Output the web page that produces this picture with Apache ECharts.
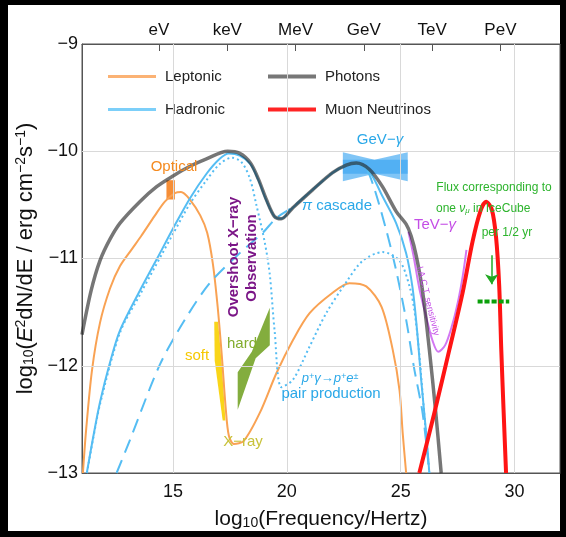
<!DOCTYPE html>
<html>
<head>
<meta charset="utf-8">
<script src="https://cdn.jsdelivr.net/npm/echarts@6/dist/echarts.min.js"></script>
<style>
  html, body { margin: 0; padding: 0; background: #000; }
  #chart { width: 566px; height: 537px; }
</style>
</head>
<body>
<div id="chart"></div>
<script>
// Axis ticks and labels
const freqTicks = [15, 20, 25, 30];
const fluxTicks = [-10, -11, -12];
const energyTicks = [14.383, 17.383, 20.383, 23.383, 26.383, 29.383];
const energyLabels = ['eV', 'keV', 'MeV', 'GeV', 'TeV', 'PeV'];

// Spectral curves: [log10(nu/Hz), log10(E^2 dN/dE)]
const leptonic = [[11.04,-13.0],[11.18,-12.60],[11.44,-12.04],[11.79,-11.60],[12.23,-11.28],[12.67,-11.07],[13.2,-10.91],[13.6,-10.79],[14.2,-10.60],[14.64,-10.47],[15.08,-10.39],[15.35,-10.38],[15.74,-10.45],[16.2,-10.60],[16.5,-10.76],[16.75,-11.05],[16.96,-11.45],[17.14,-11.90],[17.32,-12.41],[17.45,-12.65],[17.67,-12.73],[18.11,-12.70],[18.81,-12.44],[19.54,-12.07],[20.27,-11.76],[21.0,-11.51],[22.01,-11.32],[22.75,-11.23],[23.49,-11.26],[24.16,-11.45],[24.65,-11.85],[24.95,-12.23],[25.09,-12.63],[25.24,-13.0]];
const hadronic = [[11.21,-13.0],[11.47,-12.69],[11.79,-12.34],[12.23,-11.97],[12.67,-11.67],[13.54,-11.30],[14.3,-11.00],[15.0,-10.72],[15.74,-10.44],[16.47,-10.21],[17.05,-10.07],[17.45,-10.02],[17.93,-10.04],[18.4,-10.12],[18.75,-10.27],[19.10,-10.46],[19.46,-10.61],[19.75,-10.63],[20.25,-10.53],[21.13,-10.36],[22.01,-10.20],[22.61,-10.13],[23.05,-10.11],[23.63,-10.19],[24.20,-10.42],[24.80,-10.67],[25.24,-10.95],[25.52,-11.27],[25.72,-11.67],[25.9,-12.13],[26.12,-12.63],[26.26,-13.0]];
const pairSync = [[11.22,-13.0],[11.48,-12.69],[11.79,-12.36],[12.67,-11.69],[13.54,-11.34],[15.0,-10.77],[15.74,-10.49],[16.47,-10.27],[17.05,-10.12],[17.58,-10.06],[18.0,-10.10],[18.37,-10.25],[18.66,-10.50],[19.03,-10.85],[19.25,-11.15],[19.46,-11.67],[19.76,-12.20],[20.27,-12.13],[21.0,-11.82],[21.73,-11.51],[22.61,-11.22],[23.34,-11.02],[24.21,-10.94],[24.95,-11.02],[25.39,-11.26],[25.6,-11.48],[25.8,-11.85],[26.02,-12.41],[26.26,-13.0]];
const pionCascade = [[12.52,-13.0],[13.11,-12.69],[14.42,-11.99],[15.52,-11.57],[16.61,-11.23],[17.93,-10.95],[18.94,-10.76],[19.55,-10.62],[20.25,-10.52],[21.13,-10.36],[22.01,-10.20],[22.61,-10.13],[23.05,-10.11],[23.45,-10.15],[23.8,-10.32],[24.36,-10.73],[24.80,-11.11],[25.24,-11.57],[25.58,-12.01],[25.97,-12.45],[26.26,-13.0]];
const photons = [[11.0,-11.71],[11.4,-11.30],[11.79,-11.02],[12.23,-10.82],[12.67,-10.67],[13.54,-10.47],[14.28,-10.33],[15.0,-10.23],[15.74,-10.14],[16.47,-10.07],[17.40,-10.0],[17.93,-10.02],[18.4,-10.11],[18.75,-10.26],[19.10,-10.45],[19.46,-10.61],[19.75,-10.63],[20.25,-10.53],[21.13,-10.36],[22.01,-10.20],[22.61,-10.13],[23.05,-10.11],[23.63,-10.17],[24.20,-10.33],[24.80,-10.56],[25.24,-10.68],[25.46,-10.79],[25.68,-10.97],[25.96,-11.30],[26.26,-11.85],[26.53,-12.41],[26.78,-13.0]];
const muonNeutrinos = [[25.82,-13.0],[26.48,-12.44],[27.14,-11.85],[27.72,-11.32],[28.16,-10.84],[28.5,-10.56],[28.75,-10.47],[29.0,-10.54],[29.19,-10.80],[29.33,-11.26],[29.42,-11.85],[29.52,-12.41],[29.63,-13.0]];
const iactSensitivity = [[25.34,-10.75],[25.56,-10.97],[25.82,-11.28],[26.13,-11.55],[26.39,-11.76],[26.65,-11.87],[26.95,-11.81],[27.25,-11.63],[27.52,-11.40],[27.73,-11.16],[27.89,-10.92]];

// Observational constraints
const opticalBox = [[14.71,-10.27],[15.08,-10.27],[15.08,-10.45],[14.71,-10.45]];
const gevButterfly = [[22.46,-10.01],[23.85,-10.08],[25.31,-10.01],[25.31,-10.28],[23.85,-10.21],[22.46,-10.28]];
const gevBand = [[22.46,-10.08],[25.31,-10.08],[25.31,-10.21],[22.46,-10.21]];
const softXray = [[16.81,-11.59],[16.98,-11.59],[17.16,-12.04],[17.30,-12.51],[17.18,-12.51],[16.83,-11.95]];
const hardXray = [[17.84,-12.41],[17.84,-12.06],[18.46,-11.87],[19.25,-11.46],[19.25,-11.81],[18.63,-11.93]];
const iceCubeArrow = [[29.0,-10.97],[29.0,-11.24]];
const iceCubeLevel = [[28.38,-11.40],[29.77,-11.40]];

const FONT = '"Liberation Sans", Arial, sans-serif';

function polygonSeries(points, color, opacity, z) {
  return {
    type: 'custom',
    silent: true,
    z: z || 3,
    data: points,
    encode: { x: 0, y: 1 },
    renderItem: function (params, api) {
      if (params.dataIndex !== 0) return null;
      return {
        type: 'polygon',
        shape: { points: points.map(function (p) { return api.coord(p); }) },
        style: { fill: color, opacity: opacity }
      };
    }
  };
}

function curve(name, data, color, width, type, z, opacity) {
  return {
    name: name, type: 'line', data: data, showSymbol: false, symbol: 'none',
    smooth: 0.3, z: z, silent: true,
    lineStyle: { color: color, width: width, type: type || 'solid', opacity: opacity == null ? 1 : opacity, cap: 'butt', join: 'round' },
    itemStyle: { color: color }
  };
}

const chart = echarts.init(document.getElementById('chart'), null, { renderer: 'canvas' });

const gridLines = {
  type: 'line', data: [], silent: true, z: 1,
  markLine: {
    silent: true, symbol: 'none', label: { show: false },
    lineStyle: { color: '#d9d9d9', width: 1, type: 'solid' },
    data: freqTicks.map(function (v) { return { xAxis: v }; })
      .concat(fluxTicks.map(function (v) { return { yAxis: v }; }))
  }
};

const blue = '#2aa8e8';
const option = {
  backgroundColor: '#000',
  animation: false,
  textStyle: { fontFamily: FONT },
  graphic: [
    { type: 'rect', z: -10, shape: { x: 8, y: 5, width: 552, height: 526 }, style: { fill: '#fff' }, silent: true },
    { type: 'text', z: 50, x: 174, y: 167, style: { text: 'Optical', fill: '#f58a1f', font: '15px ' + FONT, align: 'center', verticalAlign: 'middle' } },
    { type: 'text', z: 50, x: 234, y: 257, rotation: Math.PI / 2, style: { text: 'Overshoot X\u2212ray', fill: '#7b1687', font: 'bold 15px ' + FONT, align: 'center', verticalAlign: 'middle' } },
    { type: 'text', z: 50, x: 252, y: 258, rotation: Math.PI / 2, style: { text: 'Observation', fill: '#7b1687', font: 'bold 15px ' + FONT, align: 'center', verticalAlign: 'middle' } },
    { type: 'text', z: 50, x: 197, y: 356, style: { text: 'soft', fill: '#f6c800', font: '15px ' + FONT, align: 'center', verticalAlign: 'middle' } },
    { type: 'text', z: 50, x: 242, y: 344, style: { text: 'hard', fill: '#82ad2e', font: '15px ' + FONT, align: 'center', verticalAlign: 'middle' } },
    { type: 'text', z: 50, x: 243, y: 442, style: { text: 'X\u2212ray', fill: '#c8c23a', font: '15px ' + FONT, align: 'center', verticalAlign: 'middle' } },
    { type: 'text', z: 50, x: 337, y: 206, style: { rich: { i: { font: 'italic 15px ' + FONT, fill: blue }, n: { font: '15px ' + FONT, fill: blue } }, text: '{i|\u03c0}{n| cascade}', align: 'center', verticalAlign: 'middle' } },
    { type: 'text', z: 50, x: 380, y: 140, style: { rich: { i: { font: 'italic 15px ' + FONT, fill: blue }, n: { font: '15px ' + FONT, fill: blue } }, text: '{n|GeV\u2212}{i|\u03b3}', align: 'center', verticalAlign: 'middle' } },
    { type: 'text', z: 50, x: 330, y: 378, style: {
      rich: {
        i: { font: 'italic 13px ' + FONT, fill: blue },
        u: { font: 'italic 9px ' + FONT, fill: blue, verticalAlign: 'top' },
        n: { font: '13px ' + FONT, fill: blue }
      },
      text: '{i|p}{u|+}{i|\u03b3}{n|\u2192}{i|p}{u|+}{i|e}{u|\u00b1}', align: 'center', verticalAlign: 'middle' } },
    { type: 'text', z: 50, x: 331, y: 394, style: { text: 'pair production', fill: blue, font: '15px ' + FONT, align: 'center', verticalAlign: 'middle' } },
    { type: 'text', z: 50, x: 435, y: 225, style: { rich: { i: { font: 'italic 15px ' + FONT, fill: '#c44de6' }, n: { font: '15px ' + FONT, fill: '#c44de6' } }, text: '{n|TeV\u2212}{i|\u03b3}', align: 'center', verticalAlign: 'middle' } },
    { type: 'text', z: 50, x: 428, y: 301, rotation: -76 * Math.PI / 180, style: { text: 'I.A.C.T. sensitivity', fill: '#c44de6', font: '9px ' + FONT, align: 'center', verticalAlign: 'middle' } },
    { type: 'text', z: 50, x: 494, y: 188, style: { text: 'Flux corresponding to', fill: '#2db42d', font: '12px ' + FONT, align: 'center', verticalAlign: 'middle' } },
    { type: 'text', z: 50, x: 436, y: 209, style: { rich: { n: { font: '12px ' + FONT, fill: '#2db42d' }, i: { font: 'italic 12px ' + FONT, fill: '#2db42d' }, s: { font: 'italic 8px ' + FONT, fill: '#2db42d', verticalAlign: 'bottom' } }, text: '{n|one }{i|\u03bd}{s|\u03bc}{n| in IceCube}', align: 'left', verticalAlign: 'middle' } },
    { type: 'text', z: 50, x: 507, y: 233, style: { text: 'per 1/2 yr', fill: '#2db42d', font: '12px ' + FONT, align: 'center', verticalAlign: 'middle' } }
  ],
  legend: [
    {
      left: 103, top: 64, orient: 'vertical', itemGap: 18, itemWidth: 48, itemHeight: 3, icon: 'rect',
      textStyle: { fontSize: 15, color: '#222', fontFamily: FONT, padding: [0, 0, 0, 4] },
      data: [{ name: 'Leptonic', itemStyle: { color: '#fbb274' } }, { name: 'Hadronic', itemStyle: { color: '#7ccff9' } }]
    },
    {
      left: 263, top: 64, orient: 'vertical', itemGap: 18, itemWidth: 48, itemHeight: 4, icon: 'rect',
      textStyle: { fontSize: 15, color: '#222', fontFamily: FONT, padding: [0, 0, 0, 4] },
      data: [{ name: 'Photons', itemStyle: { color: '#777' } }, { name: 'Muon Neutrinos', itemStyle: { color: '#ff2424' } }]
    }
  ],
  grid: { left: 82, right: 6, top: 44, bottom: 64, show: true, borderColor: '#555', borderWidth: 1, backgroundColor: 'transparent' },
  xAxis: [
    {
      type: 'value', min: 11, max: 32, position: 'bottom',
      axisLine: { show: true, lineStyle: { color: '#555' } },
      axisTick: { show: true, inside: true, length: 5, customValues: freqTicks, lineStyle: { color: '#555' } },
      axisLabel: { customValues: freqTicks, fontSize: 18, color: '#111', margin: 10, fontFamily: FONT },
      splitLine: { show: false },
      name: '{a|log}{s|10}{a|(Frequency/Hertz)}', nameLocation: 'middle', nameGap: 35,
      nameTextStyle: { rich: { a: { fontSize: 21, color: '#111', fontFamily: FONT }, s: { fontSize: 14, color: '#111', fontFamily: FONT, verticalAlign: 'bottom', padding: [8, 0, 0, 0] } } }
    },
    {
      type: 'value', min: 11, max: 32, position: 'top',
      axisLine: { show: true, lineStyle: { color: '#555' } },
      axisTick: { show: true, inside: true, length: 7, customValues: energyTicks, lineStyle: { color: '#555' } },
      axisLabel: {
        customValues: energyTicks, fontSize: 17, color: '#111', margin: 5, fontFamily: FONT,
        formatter: function (v) {
          var best = 0;
          for (var i = 1; i < energyTicks.length; i++) if (Math.abs(energyTicks[i] - v) < Math.abs(energyTicks[best] - v)) best = i;
          return energyLabels[best];
        }
      },
      splitLine: { show: false }
    }
  ],
  yAxis: {
    type: 'value', min: -13, max: -9, interval: 1,
    axisLine: { show: true, lineStyle: { color: '#555' } },
    axisTick: { show: true, inside: true, length: 5, lineStyle: { color: '#555' } },
    axisLabel: { fontSize: 18, color: '#111', margin: 4, fontFamily: FONT, formatter: function (v) { return String(v).replace('-', '\u2212'); } },
    splitLine: { show: false },
    name: '{a|log}{s|10}{a|(}{i|E}{p|2}{a|dN/dE / erg cm}{p|\u22122}{a|s}{p|\u22121}{a|)}',
    nameLocation: 'middle', nameRotate: 90, nameGap: 41,
    nameTextStyle: { rich: {
      a: { fontSize: 22, color: '#111', fontFamily: FONT },
      i: { fontSize: 22, color: '#111', fontFamily: FONT, fontStyle: 'italic' },
      s: { fontSize: 14, color: '#111', fontFamily: FONT, verticalAlign: 'bottom' },
      p: { fontSize: 14, color: '#111', fontFamily: FONT, verticalAlign: 'top' }
    } }
  },
  series: [
    gridLines,
    polygonSeries(gevButterfly, '#2c9ff0', 0.6, 3),
    polygonSeries(gevBand, '#2c9ff0', 0.55, 3),
    polygonSeries(softXray, '#f8d000', 0.9, 3),
    polygonSeries(hardXray, '#6d9f1c', 0.85, 3),
    polygonSeries(opticalBox, '#f58220', 0.9, 3),
    curve('Leptonic', leptonic, '#f9a253', 2, 'solid', 4),
    curve('Hadronic', hadronic, '#55bdf3', 2, 'solid', 4),
    curve('pair', pairSync, '#55bdf3', 2, [2, 3], 4),
    curve('cascade', pionCascade, '#55bdf3', 2, [14, 8], 4),
    curve('I.A.C.T.', iactSensitivity, '#d277f2', 2, 'solid', 5),
    curve('Photons', photons, '#222', 3.5, 'solid', 6, 0.62),
    curve('Muon Neutrinos', muonNeutrinos, '#ff1414', 4, 'solid', 7),
    {
      type: 'lines', coordinateSystem: 'cartesian2d', silent: true, z: 8,
      symbol: ['none', 'arrow'], symbolSize: 10,
      lineStyle: { color: '#22a822', width: 1.5, opacity: 1 },
      data: [{ coords: iceCubeArrow }]
    },
    curve('IceCube level', iceCubeLevel, '#0aa00a', 4, [5, 2], 8)
  ]
};
chart.setOption(option);
</script>
</body>
</html>
